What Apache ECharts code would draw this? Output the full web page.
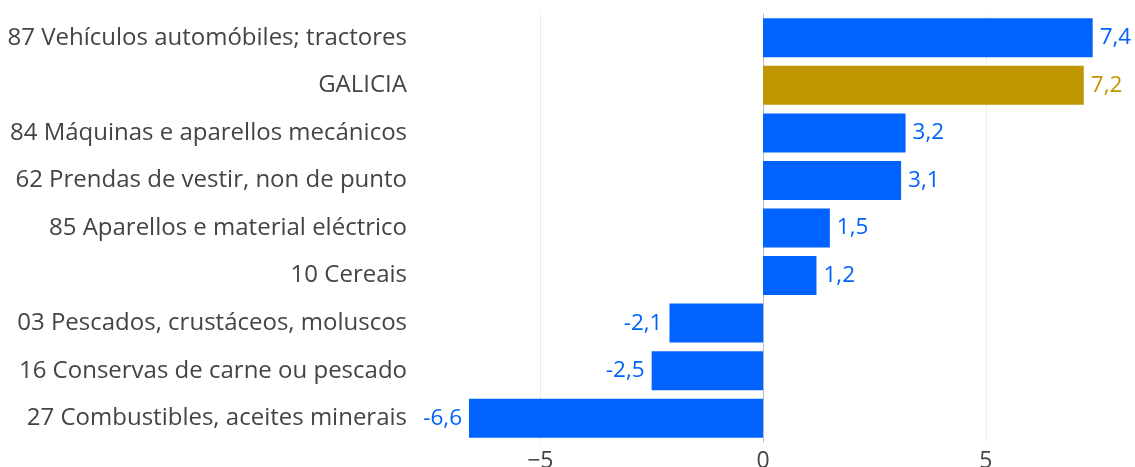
<!DOCTYPE html>
<html>
<head>
<meta charset="utf-8">
<script src="https://cdn.jsdelivr.net/npm/echarts@6/dist/echarts.min.js"></script>
<style>
  html, body { margin: 0; padding: 0; background: #fff; }
  #chart { width: 1135px; height: 467px; }
</style>
</head>
<body>
<div id="chart"></div>
<script>
// categorias (de arriba a abaixo)
const categories = [
    '87 Vehículos automóbiles; tractores',
    'GALICIA',
    '84 Máquinas e aparellos mecánicos',
    '62 Prendas de vestir, non de punto',
    '85 Aparellos e material eléctrico',
    '10 Cereais',
    '03 Pescados, crustáceos, moluscos',
    '16 Conservas de carne ou pescado',
    '27 Combustibles, aceites minerais'
];
const values = [7.4, 7.2, 3.2, 3.1, 1.5, 1.2, -2.1, -2.5, -6.6];
const xTicks = [-5, 0, 5];

const BLUE = '#0062ff';
const GOLD = '#c09600';

let chart = echarts.init(document.getElementById('chart'));

let barData = values.map((v, i) => {
    let c = categories[i] === 'GALICIA' ? GOLD : BLUE;
    return {
        value: v,
        itemStyle: { color: c },
        label: {
            color: c,
            position: v < 0 ? 'left' : 'right'
        }
    };
});

let option = {
    animation: false,
    textStyle: { fontFamily: '"Open Sans", sans-serif' },
    grid: {
        left: 420,
        right: 0,
        top: 14,
        bottom: 25,
        outerBoundsMode: 'none'
    },
    xAxis: {
        type: 'value',
        min: -7.70,
        max: 8.35,
        axisLine: { show: false },
        axisTick: { show: false, customValues: xTicks },
        axisLabel: {
            customValues: xTicks,
            fontSize: 23,
            color: '#444',
            margin: 8,
            formatter: v => (v < 0 ? '\u2212' + Math.abs(v) : String(v))
        },
        splitLine: { show: true, lineStyle: { color: '#ececec', width: 1 } }
    },
    yAxis: {
        type: 'category',
        data: categories,
        inverse: true,
        axisLine: { show: true, onZero: true, lineStyle: { color: '#bbb', width: 1 } },
        axisTick: { show: false },
        axisLabel: {
            fontSize: 24,
            color: '#444',
            margin: 13
        }
    },
    series: [{
        type: 'bar',
        data: barData,
        barCategoryGap: '18%',
        label: {
            show: true,
            fontSize: 22.5,
            distance: 7,
            formatter: p => String(p.value).replace('.', ',')
        }
    }]
};
chart.setOption(option);
</script>
</body>
</html>
